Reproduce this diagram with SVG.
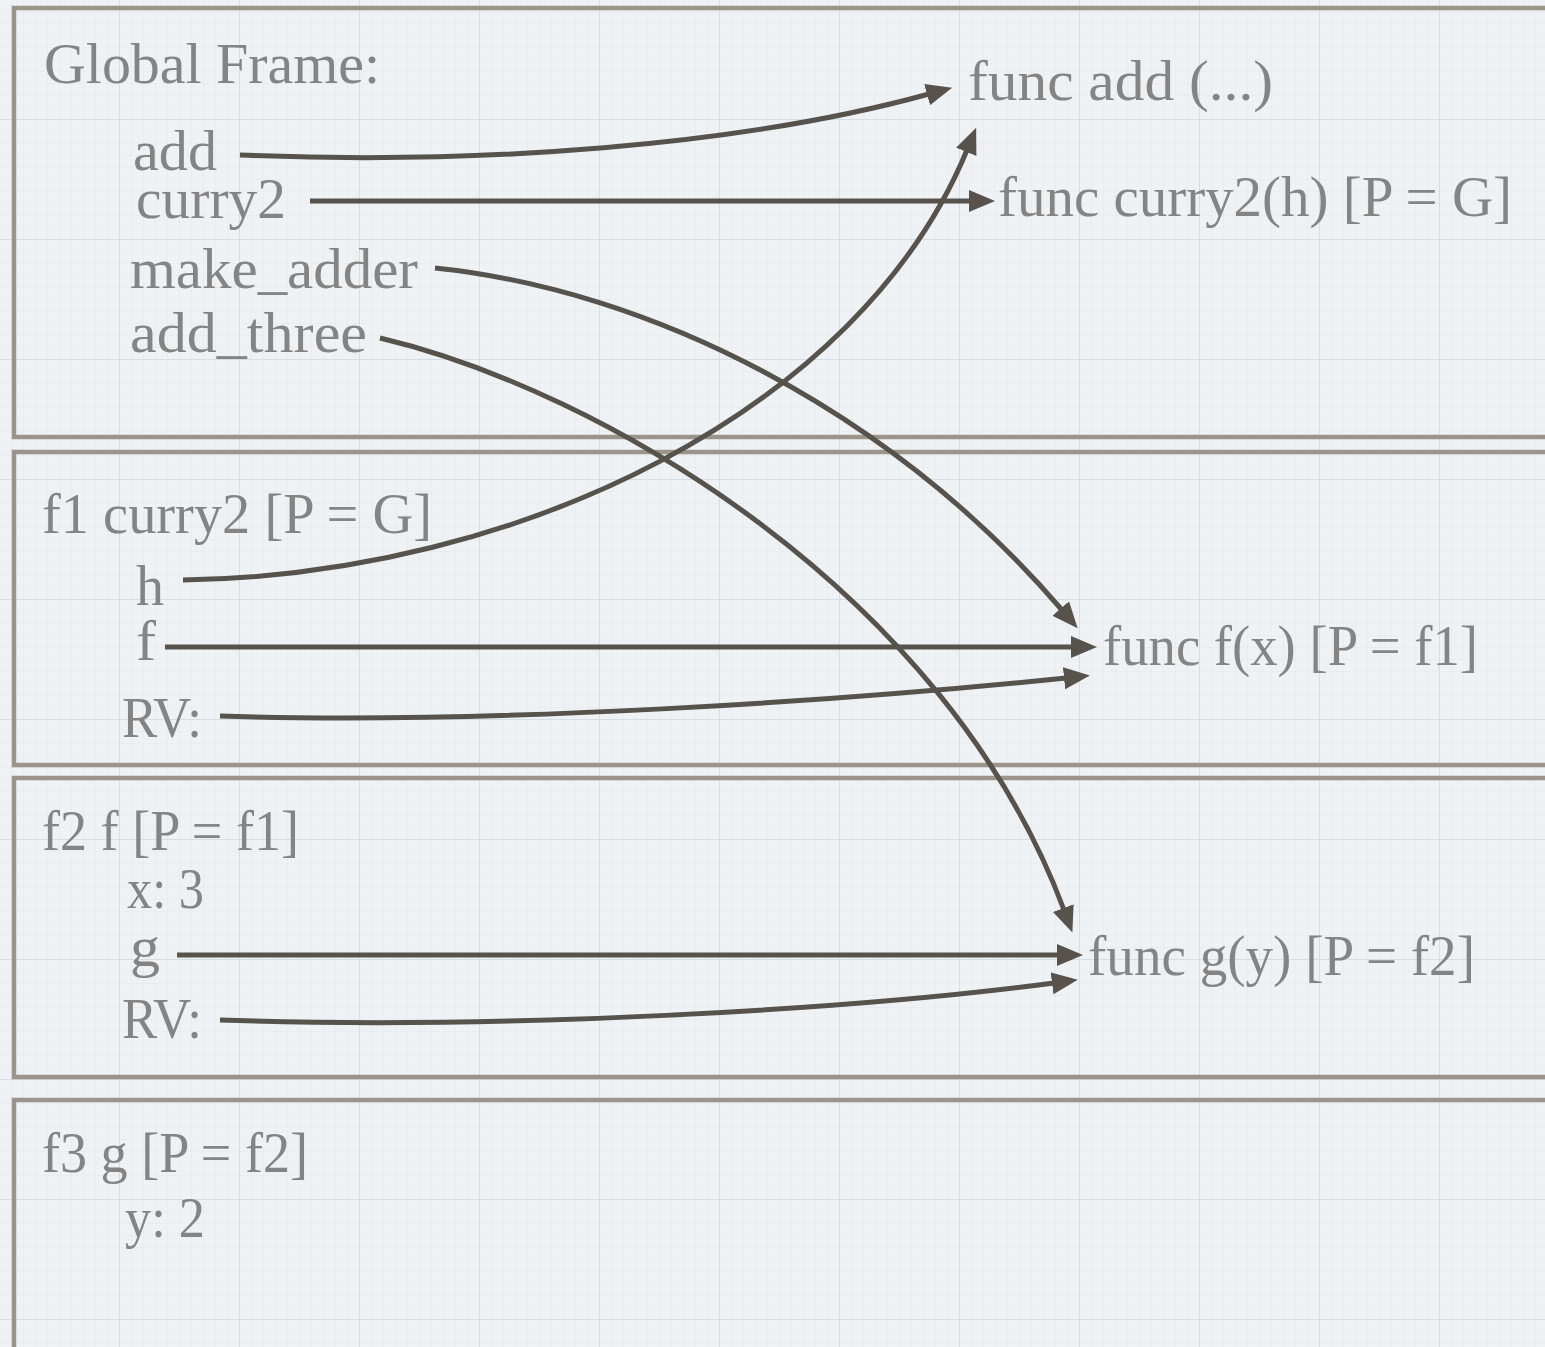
<svg xmlns="http://www.w3.org/2000/svg" width="1545" height="1347" viewBox="0 0 1545 1347">
<style>
.lbl{font-family:"Liberation Serif","Times New Roman",serif;font-size:56px;fill:#848484}
.frame{fill:none;stroke:#9b948b;stroke-width:4.5}
.conn{fill:none;stroke:#57524b;stroke-width:5;stroke-linecap:butt}
</style>
<defs>
<pattern id="minor" width="12" height="12" patternUnits="userSpaceOnUse">
<path d="M12 0V12M0 12H12" fill="none" stroke="#e2e8ed" stroke-width="1"/>
</pattern>
<pattern id="major" width="120" height="120" patternUnits="userSpaceOnUse">
<path d="M120 0V120M0 120H120" fill="none" stroke="#d6dee5" stroke-width="2"/>
</pattern>
<marker id="arr" markerUnits="userSpaceOnUse" markerWidth="30" markerHeight="24" refX="2" refY="11" orient="auto">
<path d="M0 0L26 11L0 22Z" fill="#57524b"/>
</marker>
</defs>
<rect width="1545" height="1347" fill="#eef2f5"/>
<rect width="1545" height="1347" fill="url(#minor)"/>
<rect width="1545" height="1347" fill="url(#major)"/>

<g id="global-frame">
<rect class="frame" x="14" y="8" width="1600" height="429"/>
<text class="lbl" x="44" y="83" textLength="336" lengthAdjust="spacingAndGlyphs">Global Frame:</text>
<text class="lbl" x="133" y="170" textLength="84" lengthAdjust="spacingAndGlyphs">add</text>
<text class="lbl" x="136" y="218" textLength="150" lengthAdjust="spacingAndGlyphs">curry2</text>
<text class="lbl" x="130" y="288" textLength="288" lengthAdjust="spacingAndGlyphs">make_adder</text>
<text class="lbl" x="130" y="352" textLength="237" lengthAdjust="spacingAndGlyphs">add_three</text>
</g>

<g id="func-add">
<text class="lbl" x="968" y="100" textLength="305" lengthAdjust="spacingAndGlyphs">func add (...)</text>
</g>
<g id="func-curry2">
<text class="lbl" x="998" y="216" textLength="514" lengthAdjust="spacingAndGlyphs">func curry2(h) [P = G]</text>
</g>

<g id="f1-frame">
<rect class="frame" x="14" y="452" width="1600" height="313"/>
<text class="lbl" x="42" y="533" textLength="390" lengthAdjust="spacingAndGlyphs">f1 curry2 [P = G]</text>
<text class="lbl" x="136" y="605" textLength="28" lengthAdjust="spacingAndGlyphs">h</text>
<text class="lbl" x="136" y="660" textLength="20" lengthAdjust="spacingAndGlyphs">f</text>
<text class="lbl" x="122" y="737" textLength="80" lengthAdjust="spacingAndGlyphs">RV:</text>
</g>

<g id="func-f">
<text class="lbl" x="1103" y="665" textLength="375" lengthAdjust="spacingAndGlyphs">func f(x) [P = f1]</text>
</g>

<g id="f2-frame">
<rect class="frame" x="14" y="778" width="1600" height="299"/>
<text class="lbl" x="42" y="850" textLength="257" lengthAdjust="spacingAndGlyphs">f2 f [P = f1]</text>
<text class="lbl" x="127" y="908" textLength="77" lengthAdjust="spacingAndGlyphs">x: 3</text>
<text class="lbl" x="130" y="966" textLength="30" lengthAdjust="spacingAndGlyphs">g</text>
<text class="lbl" x="122" y="1038" textLength="80" lengthAdjust="spacingAndGlyphs">RV:</text>
</g>

<g id="func-g">
<text class="lbl" x="1088" y="975" textLength="387" lengthAdjust="spacingAndGlyphs">func g(y) [P = f2]</text>
</g>

<g id="f3-frame">
<rect class="frame" x="14" y="1100" width="1600" height="400"/>
<text class="lbl" x="42" y="1172" textLength="266" lengthAdjust="spacingAndGlyphs">f3 g [P = f2]</text>
<text class="lbl" x="125" y="1237" textLength="80" lengthAdjust="spacingAndGlyphs">y: 2</text>
</g>

<g id="connectors">
<path class="conn" marker-end="url(#arr)" d="M240 155C480 165 740 146 929 94"/>
<path class="conn" marker-end="url(#arr)" d="M310 201L971 201"/>
<path class="conn" marker-end="url(#arr)" d="M435 268C650 290 890 410 1062 610"/>
<path class="conn" marker-end="url(#arr)" d="M380 338C600 390 945 590 1064 910"/>
<path class="conn" marker-end="url(#arr)" d="M183 580C520 575 860 410 967 150"/>
<path class="conn" marker-end="url(#arr)" d="M165 647L1073 647"/>
<path class="conn" marker-end="url(#arr)" d="M220 716C500 725 850 700 1066 678"/>
<path class="conn" marker-end="url(#arr)" d="M177 955L1059 955"/>
<path class="conn" marker-end="url(#arr)" d="M220 1020C500 1030 850 1010 1054 983"/>
</g>
</svg>
